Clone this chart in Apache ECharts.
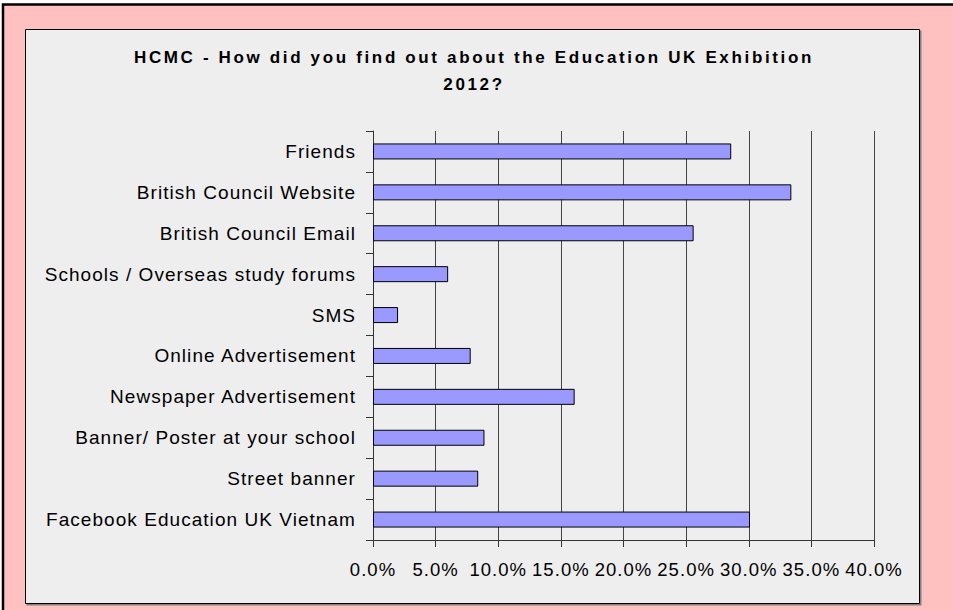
<!DOCTYPE html>
<html><head><meta charset="utf-8">
<script src="https://cdn.jsdelivr.net/npm/echarts@6/dist/echarts.min.js"></script>
<style>
html,body{margin:0;padding:0;background:#fff;}
#chart{width:953px;height:610px;}
#chart text{letter-spacing:1.05px;}
#chart text[style*="bold"]{letter-spacing:2.65px;}
</style></head><body><div id="chart"></div>
<script>
const categories = [
  'Friends',
  'British Council Website',
  'British Council Email',
  'Schools / Overseas study forums',
  'SMS',
  'Online Advertisement',
  'Newspaper Advertisement',
  'Banner/ Poster at your school',
  'Street banner',
  'Facebook Education UK Vietnam'
];
const values = [28.6, 33.4, 25.6, 6.0, 2.0, 7.8, 16.1, 8.9, 8.4, 30.1];
const tickLabels = ['0.0%','5.0%','10.0%','15.0%','20.0%','25.0%','30.0%','35.0%','40.0%'];
const titleText = 'HCMC - How did you find out about the Education UK Exhibition\n2012?';

const chart = echarts.init(document.getElementById('chart'), null, {renderer: 'svg'});
chart.setOption({
  backgroundColor: '#ffffff',
  animation: false,
  graphic: [
    {type: 'rect', z: -10, shape: {x: 3, y: 4.5, width: 1000, height: 700},
     style: {fill: '#FFC0C0', stroke: '#000', lineWidth: 2.5}},
    {type: 'rect', z: -9, shape: {x: 26.5, y: 30.5, width: 895, height: 575},
     style: {fill: '#808080'}},
    {type: 'rect', z: -8, shape: {x: 25.5, y: 29.5, width: 894, height: 574},
     style: {fill: '#EEEEEE', stroke: '#000', lineWidth: 1}}
  ],
  title: {
    text: titleText,
    left: 469,
    top: 39,
    textAlign: 'center',
    textStyle: {fontFamily: 'Liberation Sans', fontSize: 17, fontWeight: 'bold', color: '#000', lineHeight: 27}
  },
  grid: {left: 373, right: 79, top: 131, bottom: 70, containLabel: false},
  xAxis: {
    type: 'value', min: 0, max: 40, interval: 5,
    axisLine: {show: true, lineStyle: {color: '#333', width: 1}},
    axisTick: {show: true, length: 7, lineStyle: {color: '#333'}},
    splitLine: {show: true, lineStyle: {color: '#444', width: 1}},
    axisLabel: {
      formatter: v => tickLabels[Math.round(v / 5)],
      fontFamily: 'Liberation Sans', fontSize: 18.5, color: '#000', margin: 20
    }
  },
  yAxis: {
    type: 'category', data: categories, inverse: true,
    axisLine: {show: true, lineStyle: {color: '#333', width: 1}},
    axisTick: {show: true, length: 7, lineStyle: {color: '#333'}},
    splitLine: {show: false},
    axisLabel: {fontFamily: 'Liberation Sans', fontSize: 19, color: '#000', margin: 17}
  },
  series: [{
    type: 'bar', data: values, barWidth: 16,
    itemStyle: {color: '#9999FF', borderColor: '#000', borderWidth: 1}
  }]
});
</script></body></html>
